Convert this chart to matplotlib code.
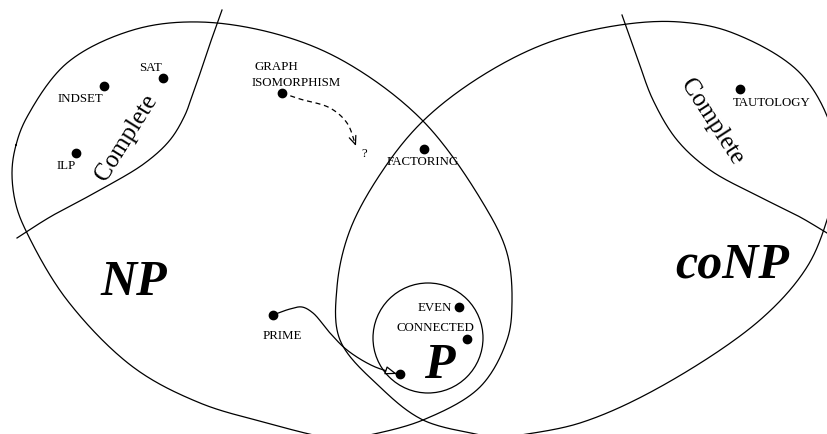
import numpy as np
import matplotlib
matplotlib.use('Agg')
import matplotlib.pyplot as plt
from matplotlib.patches import FancyArrowPatch, Ellipse
from matplotlib.path import Path

plt.rcParams['font.family'] = ['Liberation Serif', 'DejaVu Serif']

# outlines, in picture pixels (x right, y down)
np_outline = [(16, 145), (27, 117), (67, 63), (133, 30), (200, 22), (280, 35),
              (347, 63), (423, 121), (483, 203), (507, 253), (512, 303),
              (507, 340), (480, 387), (423, 420), (365, 436), (342, 440),
              (318, 436), (267, 423), (200, 403), (133, 367), (67, 300),
              (28, 235), (16, 205), (12, 172)]
conp_outline = [(423, 121), (480, 77), (547, 43), (620, 25), (680, 22),
                (733, 33), (800, 73), (832, 130), (836, 180), (827, 220),
                (807, 267), (760, 320), (660, 387), (580, 423), (515, 436),
                (497, 439), (480, 435), (423, 420), (380, 387), (340, 340),
                (337, 287), (350, 230), (383, 170)]
np_complete = [(222, 10), (213, 35), (203, 65), (193, 93), (185, 115),
               (170, 140), (145, 163), (100, 190), (50, 217), (17, 238)]
conp_complete = [(622, 15), (637, 57), (653, 100), (677, 140), (710, 170),
                 (760, 197), (800, 217), (827, 233)]
p_circle = (428, 338, 110, 110)

# problem dots
dots = [(163, 78), (104, 86), (76, 153), (282, 93), (424, 149),
        (740, 89), (273, 315), (459, 307), (467, 339), (400, 374)]

labels = [('SAT', 150, 71), ('INDSET', 80, 102), ('ILP', 66, 169),
          ('GRAPH', 276, 70), ('ISOMORPHISM', 296, 86), ('FACTORING', 423, 165),
          ('TAUTOLOGY', 772, 106), ('PRIME', 282, 339), ('EVEN', 435, 311),
          ('CONNECTED', 435, 331), ('?', 364, 157)]

iso_path = [(282, 93), (300, 99), (330, 108), (347, 123), (356, 146)]
prime_path = [(273, 315), (290, 309), (302, 307), (313, 313), (330, 333),
              (347, 350), (373, 366), (397, 374)]


def spline(pts, closed=False, n=30):
    P = np.asarray(pts, float)
    if closed:
        P = np.vstack([P[-1], P, P[0], P[1]])
    else:
        P = np.vstack([2 * P[0] - P[1], P, 2 * P[-1] - P[-2]])
    out = []
    for i in range(len(P) - 3):
        p0, p1, p2, p3 = P[i:i + 4]
        t0 = 0.0
        t1 = t0 + np.linalg.norm(p1 - p0) ** 0.5
        t2 = t1 + np.linalg.norm(p2 - p1) ** 0.5
        t3 = t2 + np.linalg.norm(p3 - p2) ** 0.5
        t = np.linspace(t1, t2, n)[:, None]
        a1 = (t1 - t) / (t1 - t0) * p0 + (t - t0) / (t1 - t0) * p1
        a2 = (t2 - t) / (t2 - t1) * p1 + (t - t1) / (t2 - t1) * p2
        a3 = (t3 - t) / (t3 - t2) * p2 + (t - t2) / (t3 - t2) * p3
        b1 = (t2 - t) / (t2 - t0) * a1 + (t - t0) / (t2 - t0) * a2
        b2 = (t3 - t) / (t3 - t1) * a2 + (t - t1) / (t3 - t1) * a3
        c = (t2 - t) / (t2 - t1) * b1 + (t - t1) / (t2 - t1) * b2
        out.append(c if i == 0 else c[1:])
    return np.vstack(out)


fig = plt.figure(figsize=(8.27, 4.34), dpi=100)
ax = fig.add_axes([0, 0, 1, 1])
ax.set_xlim(0, 827)
ax.set_ylim(434, 0)
ax.axis('off')

lw = 0.9
for pts, closed in [(np_outline, True), (conp_outline, True),
                    (np_complete, False), (conp_complete, False)]:
    c = spline(pts, closed)
    if closed:
        c = np.vstack([c, c[:1]])
    ax.plot(c[:, 0], c[:, 1], color='black', lw=lw)

ax.add_patch(Ellipse(p_circle[:2], p_circle[2], p_circle[3], fill=False,
                     ec='black', lw=lw))

# dashed arrow from graph isomorphism
c = spline(iso_path)
ax.plot(c[:-3, 0], c[:-3, 1], color='black', lw=lw, ls=(0, (4, 3)))
ax.annotate('', xy=tuple(c[-1]), xytext=tuple(c[-4]),
            arrowprops=dict(arrowstyle='->,head_length=0.6,head_width=0.25',
                            color='black', lw=lw, shrinkA=0, shrinkB=0))

# arrow from prime into P
c = spline(prime_path)
arr = FancyArrowPatch(path=Path(c), arrowstyle='-|>,head_length=7,head_width=2.5',
                      fc='white', ec='black', lw=lw)
ax.add_patch(arr)

for x, y in dots:
    ax.plot(x, y, 'o', color='black', ms=6)

for txt, x, y in labels:
    ax.text(x, y, txt, ha='center', va='baseline', fontsize=9.3)

big = dict(fontsize=36, fontweight='bold', style='italic', ha='center', va='baseline')
ax.text(134, 295, 'NP', **big)
ax.text(732, 277, 'coNP', **big)
ax.text(439, 378, 'P', **big)

ax.text(127, 138, 'Complete', rotation=58, rotation_mode='anchor',
        ha='center', va='center', fontsize=18)
ax.text(712, 122, 'Complete', rotation=-57, rotation_mode='anchor',
        ha='center', va='center', fontsize=18)

fig.savefig('out.png', dpi=100)
